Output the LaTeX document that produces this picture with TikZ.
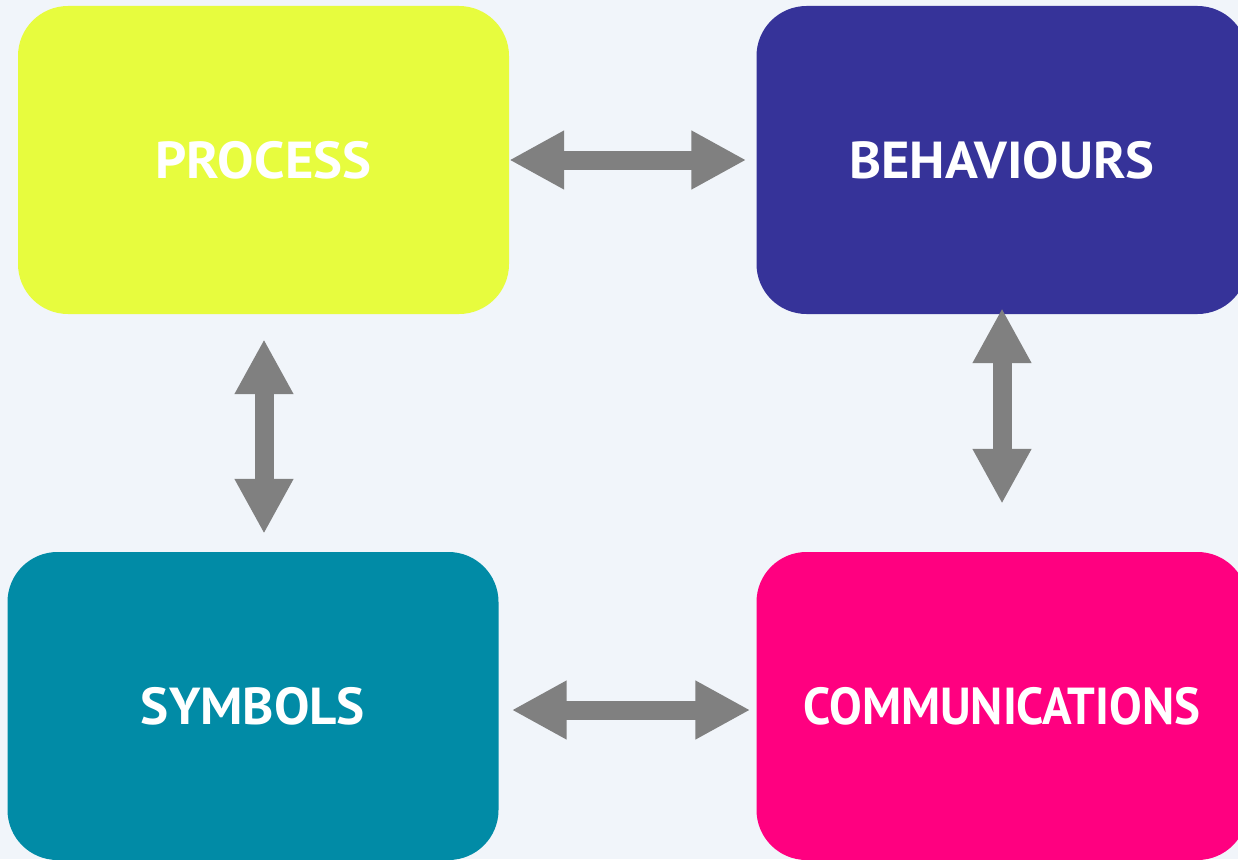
\documentclass[tikz,border=0pt]{standalone}
\usepackage{graphicx}
\usepackage{fontspec}
\setmainfont{PT Sans}
\usetikzlibrary{arrows.meta}
\definecolor{bg}{HTML}{F1F5FA}
\definecolor{procc}{HTML}{E7FC3E}
\definecolor{behc}{HTML}{363399}
\definecolor{symc}{HTML}{018BA6}
\definecolor{comc}{HTML}{FF0080}
\definecolor{arrowgray}{HTML}{808080}
\begin{document}
\begin{tikzpicture}[x=1pt,y=-1pt,
  box/.style={rectangle, rounded corners=50pt, minimum width=491pt, minimum height=308pt,
    inner sep=0pt, text=white, font=\bfseries\fontsize{52}{60}\selectfont},
  link/.style={draw=arrowgray, line width=19pt,
    {Triangle[length=55pt,width=55pt]}-{Triangle[length=55pt,width=55pt]}}]
\useasboundingbox[fill=bg] (0,0) rectangle (1238,859);
\begin{scope}
\clip (0,0) rectangle (1238,859);
\node[box, fill=procc] (p) at (263.5,160) {\scalebox{1.05}[1]{PROCESS}};
\node[box, fill=behc] (b) at (1002,160) {\scalebox{1.045}[1]{BEHAVIOURS}};
\node[box, fill=symc] (s) at (253,706) {\scalebox{1.02}[1]{SYMBOLS}};
\node[box, fill=comc] (c) at (1002,706) {\scalebox{0.94}[1]{COMMUNICATIONS}};
\draw[link] (p.east) -- ([xshift=-10pt]b.west);
\draw[link] ([xshift=0.5pt,yshift=-25pt]p.south) -- ([xshift=11pt,yshift=18pt]s.north);
\draw[link] ([yshift=6pt]b.south) -- ([yshift=48pt]c.north);
\draw[link] ([xshift=13pt,yshift=-4pt]s.east) -- ([xshift=-6pt,yshift=-4pt]c.west);
\end{scope}
\end{tikzpicture}
\end{document}
